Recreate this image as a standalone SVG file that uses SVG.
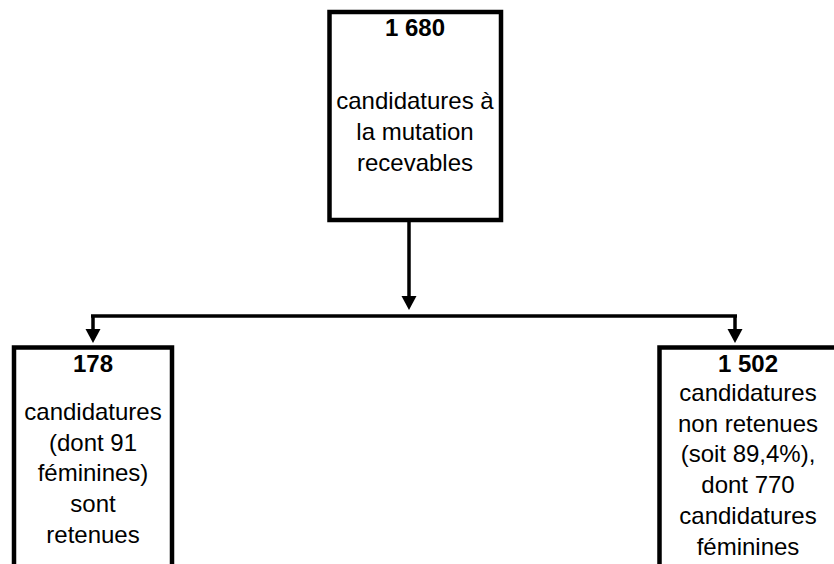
<svg xmlns="http://www.w3.org/2000/svg" width="834" height="564" viewBox="0 0 834 564">
<style>
.box{fill:#fff;stroke:#000;stroke-width:4.5}
.t{font-family:"Liberation Sans",Arial,sans-serif;font-size:24px;fill:#000;text-anchor:middle}
.b{font-weight:bold}
.c{fill:none;stroke:#000;stroke-width:3.5}
</style>
<defs>
<marker id="ah" markerUnits="userSpaceOnUse" markerWidth="16" markerHeight="16" refX="0" refY="7.5" orient="auto">
<path d="M0,0 L14,7.5 L0,15 z" fill="#000"/>
</marker>
</defs>
<rect width="834" height="564" fill="#fff"/>
<g id="connectors">
<path class="c" d="M409,222 V296" marker-end="url(#ah)"/>
<path class="c" d="M91,316 H737"/>
<path class="c" d="M93,316 V329" marker-end="url(#ah)"/>
<path class="c" d="M735,316 V329" marker-end="url(#ah)"/>
</g>
<g id="node-total">
<rect class="box" x="329.5" y="12" width="171.5" height="208"/>
<text class="t b" x="415" y="36">1 680</text>
<text class="t" x="415" y="109">candidatures à</text>
<text class="t" x="415" y="140">la mutation</text>
<text class="t" x="415" y="171">recevables</text>
</g>
<g id="node-retenues">
<rect class="box" x="14" y="347.5" width="158" height="240"/>
<text class="t b" x="93" y="372">178</text>
<text class="t" x="93" y="420">candidatures</text>
<text class="t" x="93" y="451">(dont 91</text>
<text class="t" x="93" y="481">féminines)</text>
<text class="t" x="93" y="512">sont</text>
<text class="t" x="93" y="543">retenues</text>
</g>
<g id="node-non-retenues">
<rect class="box" x="659.5" y="347.5" width="200" height="240"/>
<text class="t b" x="748" y="372">1 502</text>
<text class="t" x="748" y="401">candidatures</text>
<text class="t" x="748" y="432">non retenues</text>
<text class="t" x="748" y="462">(soit 89,4%),</text>
<text class="t" x="748" y="493">dont 770</text>
<text class="t" x="748" y="524">candidatures</text>
<text class="t" x="748" y="555">féminines</text>
</g>
</svg>
